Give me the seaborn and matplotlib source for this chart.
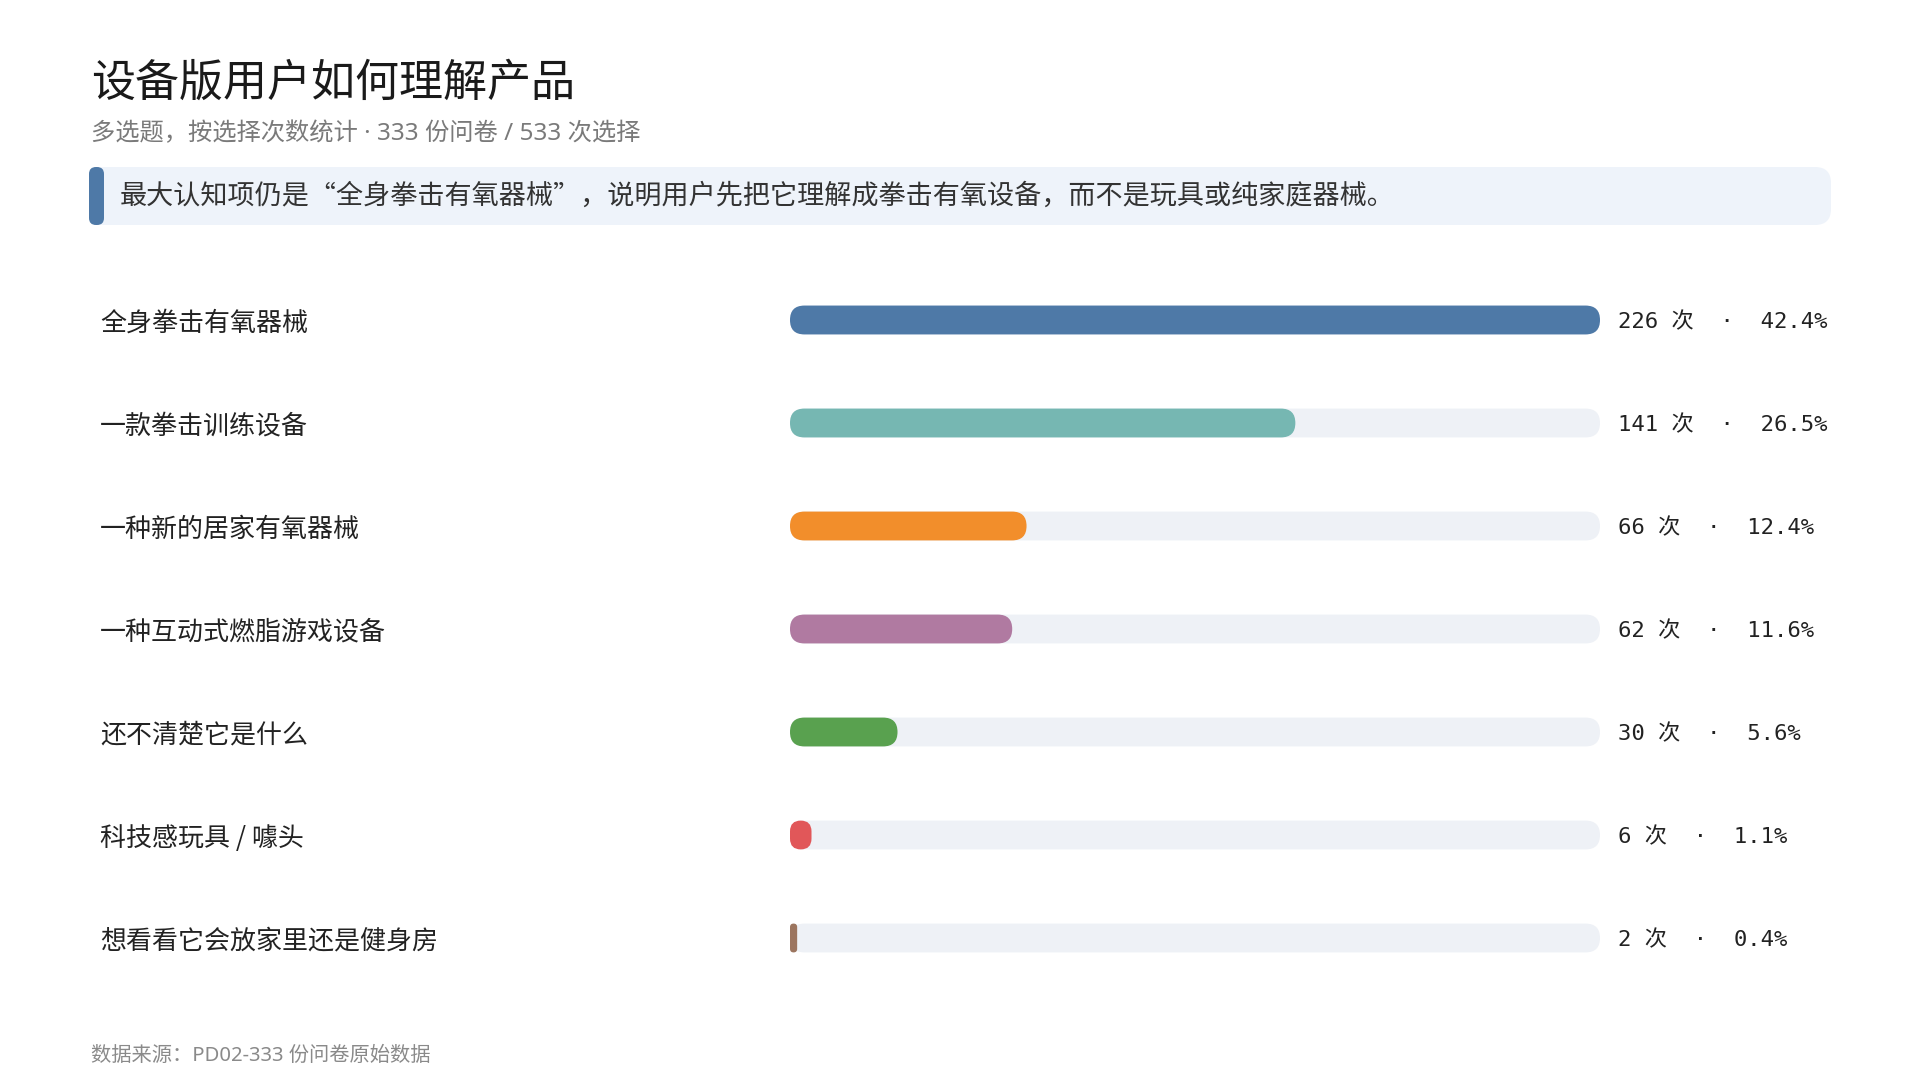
import matplotlib
matplotlib.use("Agg")
import matplotlib.pyplot as plt
import seaborn as sns
import pandas as pd
from matplotlib.patches import FancyBboxPatch
import matplotlib.transforms as mtransforms

# data
categories = ["全身拳击有氧器械", "一款拳击训练设备", "一种新的居家有氧器械", "一种互动式燃脂游戏设备",
              "还不清楚它是什么", "科技感玩具 / 噱头", "想看看它会放家里还是健身房"]
counts = [226, 141, 66, 62, 30, 6, 2]
shares = [42.4, 26.5, 12.4, 11.6, 5.6, 1.1, 0.4]
colors = ["#4E79A7", "#76B7B2", "#F28E2B", "#B07AA1", "#59A14F", "#E15759", "#9C755F"]

title = "设备版用户如何理解产品"
subtitle = "多选题，按选择次数统计 · 333 份问卷 / 533 次选择"
note = "最大认知项仍是“全身拳击有氧器械”，说明用户先把它理解成拳击有氧设备，而不是玩具或纯家庭器械。"
source = "数据来源：PD02-333 份问卷原始数据"

df = pd.DataFrame({"cat": categories, "count": counts, "track": [max(counts)] * len(counts)})

sns.set_theme(style="white")
plt.rcParams["font.family"] = ["Noto Sans CJK SC", "DejaVu Sans"]
latin_first = ["Noto Sans", "Noto Sans CJK SC"]

W, H = 1920, 1080
fig = plt.figure(figsize=(19.2, 10.8), dpi=100)
fig.patch.set_facecolor("white")

# overlay in pixel coordinates for header / footer
ov = fig.add_axes([0, 0, 1, 1], zorder=0)
ov.set_xlim(0, W)
ov.set_ylim(H, 0)
ov.axis("off")

ov.text(91, 83, title, fontsize=31.7, color="#1a1a1a", va="center", ha="left")
ov.text(91, 134, subtitle, fontsize=17.5, color="#7a7a7a", va="center", ha="left", family=latin_first)
ov.add_patch(FancyBboxPatch((89, 167), 1742, 58, boxstyle="round,pad=0,rounding_size=16",
                            facecolor="#EEF3FA", edgecolor="none"))
ov.add_patch(FancyBboxPatch((89, 167), 15, 58, boxstyle="round,pad=0,rounding_size=7",
                            facecolor="#4E79A7", edgecolor="none"))
ov.text(120, 196, note, fontsize=19.5, color="#333333", va="center", ha="left")
ov.text(91, 1056, source, fontsize=14.6, color="#8a8a8a", va="center", ha="left", family=latin_first)

# bar area
left_px, right_px = 790, 1600
row_h = 103
top_px = 320 - row_h / 2
bottom_px = top_px + row_h * len(categories)
ax = fig.add_axes([left_px / W, 1 - bottom_px / H, (right_px - left_px) / W, (bottom_px - top_px) / H], zorder=1)
ax.patch.set_alpha(0)

sns.barplot(data=df, x="track", y="cat", color="#EDF0F7", width=0.28, ax=ax, orient="h")
sns.barplot(data=df, x="count", y="cat", hue="cat", palette=colors, legend=False,
            width=0.28, ax=ax, orient="h", saturation=1)

ax.set_xlim(0, max(counts))
ax.set_ylim(len(categories) - 0.5, -0.5)
sns.despine(ax=ax, left=True, bottom=True)
ax.set_xticks([])
ax.set_xlabel("")
ax.set_ylabel("")

# category labels as y tick labels, aligned left at x=100px
ax.tick_params(axis="y", length=0, pad=(left_px - 100) * 72 / 100, labelsize=18.7, labelcolor="#222222")
for lbl in ax.get_yticklabels():
    lbl.set_ha("left")

# rounded bars: swap each seaborn rectangle for a pill of the same bounds
xppu = (right_px - left_px) / max(counts)
yppu = row_h
asp = xppu / yppu
for p in list(ax.patches):
    x, y = p.get_x(), p.get_y()
    w, h = p.get_width(), p.get_height()
    fc = p.get_facecolor()
    r_full = (h * yppu / 2) / xppu
    r = min(r_full, w / 2)
    p.remove()
    ax.add_patch(FancyBboxPatch((x, y), w, h, boxstyle=f"round,pad=0,rounding_size={r}",
                                mutation_aspect=asp, facecolor=fc, edgecolor="none", clip_on=False))

# value labels
trans = mtransforms.blended_transform_factory(ax.transAxes, ax.transData)
for i, (c, s) in enumerate(zip(counts, shares)):
    ax.text(1 + 18 / (right_px - left_px), i + 0.02, f"{c} 次  ·  {s:.1f}%", transform=trans,
            fontsize=16, color="#222222", va="center", ha="left",
            family=["DejaVu Sans Mono", "Noto Sans CJK SC"], clip_on=False)

plt.savefig("out.png", dpi=100)
plt.close()
